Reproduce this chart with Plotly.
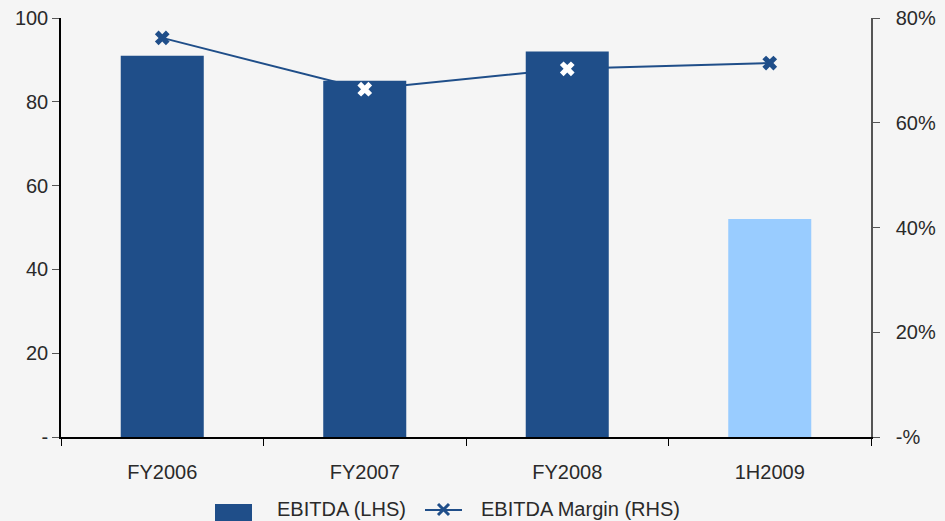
import plotly.graph_objects as go

categories = ["FY2006", "FY2007", "FY2008", "1H2009"]
ebitda = [91, 85, 92, 52]
margin = [0.762, 0.664, 0.703, 0.714]
bar_colors = ["#1f4e89", "#1f4e89", "#1f4e89", "#99ccff"]
marker_colors = ["#1f4e89", "#ffffff", "#ffffff", "#1f4e89"]
left_ticks = [0, 20, 40, 60, 80, 100]
left_labels = ["-", "20", "40", "60", "80", "100"]
right_ticks = [0, 0.2, 0.4, 0.6, 0.8]
right_labels = ["-%", "20%", "40%", "60%", "80%"]

BLUE = "#1f4e89"
FONT = dict(family="Liberation Sans, Arial, sans-serif", size=20, color="#2a2a2a")

fig = go.Figure()
# margin line (bottom layer)
fig.add_trace(go.Scatter(x=categories, y=margin, mode="lines",
                         line=dict(color=BLUE, width=2), yaxis="y", showlegend=False))
# bars (middle layer)
fig.add_trace(go.Bar(x=categories, y=ebitda, marker=dict(color=bar_colors, line=dict(width=0)),
                     yaxis="y2", showlegend=False))
# markers (top layer)
fig.add_trace(go.Scatter(x=categories, y=margin, mode="markers",
                         marker=dict(symbol="x", size=13, color=marker_colors, line=dict(width=0)),
                         yaxis="y3", showlegend=False))

W, H = 945, 521
L, R, T, B = 61, 74, 18, 84
pw, ph = W - L - R, H - T - B

def px(x):
    return (x - L) / pw

def py(y):
    return (H - B - y) / ph

shapes = [
    dict(type="rect", xref="paper", yref="paper", x0=px(215), x1=px(252), y0=py(521), y1=py(504),
         fillcolor=BLUE, line=dict(width=0)),
    dict(type="line", xref="paper", yref="paper", x0=px(425), x1=px(462), y0=py(510), y1=py(510),
         line=dict(color=BLUE, width=2)),
    dict(type="line", xref="paper", yref="paper", x0=px(438), x1=px(449), y0=py(504), y1=py(515),
         line=dict(color=BLUE, width=3)),
    dict(type="line", xref="paper", yref="paper", x0=px(438), x1=px(449), y0=py(515), y1=py(504),
         line=dict(color=BLUE, width=3)),
]
annotations = [
    dict(text="EBITDA (LHS)", xref="paper", yref="paper", x=px(275), y=py(509),
         xanchor="left", yanchor="middle", showarrow=False, font=FONT),
    dict(text="EBITDA Margin (RHS)", xref="paper", yref="paper", x=px(479), y=py(509),
         xanchor="left", yanchor="middle", showarrow=False, font=FONT),
]

fig.update_layout(
    width=W, height=H,
    margin=dict(l=L, r=R, t=T, b=B, pad=0, autoexpand=False),
    paper_bgcolor="#f5f5f5", plot_bgcolor="#f5f5f5",
    font=FONT,
    bargap=0.59,
    showlegend=False,
    shapes=shapes, annotations=annotations,
    xaxis=dict(type="category", showgrid=False, showline=True, linecolor="#000000", linewidth=1.5,
               ticks="outside", ticklen=7, tickcolor="#000000", tickson="boundaries",
               ticklabelstandoff=16, zeroline=False, automargin=False),
    yaxis=dict(side="right", range=[0, 0.8], tickvals=right_ticks, ticktext=right_labels,
               showgrid=False, zeroline=False, showline=True, linecolor="#555555", linewidth=1.5,
               ticks="outside", ticklen=7, tickcolor="#555555", ticklabelstandoff=12,
               automargin=False),
    yaxis2=dict(overlaying="y", side="left", range=[0, 100], tickvals=left_ticks, ticktext=left_labels,
                showgrid=False, zeroline=False, showline=True, linecolor="#000000", linewidth=1.5,
                ticks="outside", ticklen=7, tickcolor="#555555", automargin=False),
    yaxis3=dict(overlaying="y", range=[0, 0.8], visible=False),
)

fig.write_html("out.html")
